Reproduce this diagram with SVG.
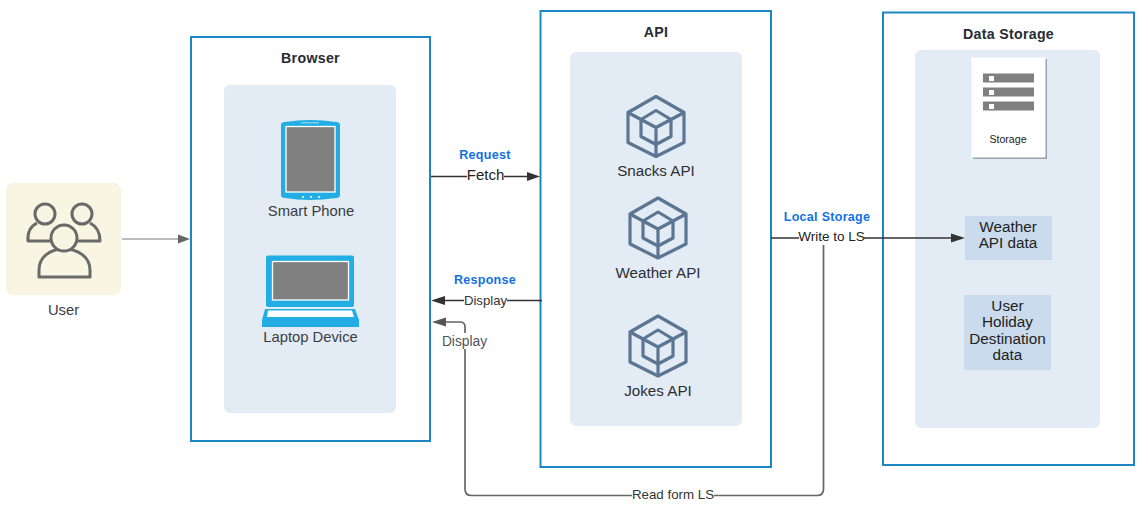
<svg xmlns="http://www.w3.org/2000/svg" width="1141" height="518" viewBox="0 0 1141 518">
<style>
text{font-family:"Liberation Sans",Arial,sans-serif;text-anchor:middle}
.box{fill:#fff;stroke:#1b87c2;stroke-width:2}
.panel{fill:#e3ebf5}
.title{font-size:14.200px;font-weight:bold;fill:#282c33;letter-spacing:.3px}
.lab{font-size:14.800px;fill:#3a3d42}
.api{font-size:15.200px;fill:#2c2f33}
.blue{font-size:12.500px;font-weight:bold;fill:#1071e5;letter-spacing:.3px}
.data{fill:#cbdbee}
.dt{font-size:15.300px;fill:#222}
.hex{fill:none;stroke:#5b7693;stroke-width:3.2;stroke-linejoin:round}
.ppl{fill:none;stroke:#6a6a6a;stroke-width:3;stroke-linejoin:round}
.dev{fill:#22ade4}
.scr{fill:#808080;stroke:#fff;stroke-width:1.3}
.c1{fill:none;stroke:#333;stroke-width:1.6}
.c2{fill:none;stroke:#666;stroke-width:1.7}
.lb{fill:#fff}
</style>
<defs>
<g id="cube">
<path class="hex" d="M0-30 28-14V16L0 30-28 16V-14Z"/>
<path class="hex" d="M0-16 15-7V10L0 18-15 10V-7Z"/>
<path class="hex" d="M-28-14-15-7 0 1 15-7 28-14M0 1V30"/>
</g>
</defs>

<g id="user">
<rect x="6" y="183" width="115" height="112" rx="7" fill="#f8f6e3"/>
<circle class="ppl" cx="45" cy="214" r="10"/>
<circle class="ppl" cx="82" cy="214" r="10"/>
<path class="ppl" d="M37 223Q27 228 28 241H50M90 223Q100 228 100 241H78"/>
<path d="M39 277V270C39 257 50 249 64 249 78 249 90 257 90 270V277Z" fill="#f8f6e3" stroke="#6a6a6a" stroke-width="3" stroke-linejoin="round"/>
<circle cx="64" cy="238" r="13" fill="#f8f6e3" stroke="#6a6a6a" stroke-width="3"/>
<text class="lab" x="63.500" y="314.500">User</text>
</g>

<g id="browser">
<rect class="box" x="191" y="37" width="239" height="404"/>
<rect class="panel" x="224" y="85" width="172" height="328" rx="6"/>
<text class="title" x="310.500" y="63">Browser</text>
</g>
<g id="smart-phone">
<path class="dev" d="M281 125Q281 122 285 122 310 118 336 122 340 122 340 125V195Q340 198 336 198 310 202 285 198 281 198 281 195Z"/>
<rect x="301" y="122" width="18" height="1.500" fill="#7fd0f0"/>
<rect class="scr" x="286" y="126.500" width="49" height="65.500"/>
<circle cx="303" cy="197" r="1" fill="#fff"/><circle cx="311" cy="197" r="1" fill="#fff"/><circle cx="319" cy="197" r="1" fill="#fff"/>
<text class="lab" x="311" y="216">Smart Phone</text>
</g>
<g id="laptop-device">
<rect class="dev" x="266" y="255.500" width="88" height="51.500" rx="2"/>
<rect class="scr" x="272.500" y="261.500" width="76" height="38.500"/>
<path class="dev" d="M265 309H355L359 320V327H262V320Z"/>
<path d="M268 310.500H352L354 317H267Z" fill="#fff"/>
<text class="lab" x="310.500" y="342">Laptop Device</text>
</g>

<g id="api">
<rect class="box" x="540.500" y="11" width="230.500" height="456"/>
<rect class="panel" x="570" y="52" width="172" height="374" rx="6"/>
<text class="title" x="656" y="37">API</text>
</g>
<g id="snacks-api">
<use href="#cube" x="656" y="126.500"/>
<text class="api" x="656" y="176">Snacks API</text>
</g>
<g id="weather-api">
<use href="#cube" x="658" y="228"/>
<text class="api" x="658" y="278">Weather API</text>
</g>
<g id="jokes-api">
<use href="#cube" x="658" y="346"/>
<text class="api" x="658" y="396">Jokes API</text>
</g>

<g id="data-storage">
<rect class="box" x="883" y="12.500" width="251" height="452.500"/>
<rect class="panel" x="915" y="50" width="185" height="378" rx="6"/>
<text class="title" x="1008.500" y="38.500">Data Storage</text>
</g>
<g id="storage">
<rect x="973" y="59" width="74" height="100" fill="#9aa3ad"/>
<rect x="971.500" y="57.500" width="74" height="100" fill="#fff"/>
<rect x="983" y="73.500" width="51" height="9" fill="#808080"/>
<rect x="983" y="87.500" width="51" height="9" fill="#808080"/>
<rect x="983" y="101.500" width="51" height="9" fill="#808080"/>
<rect x="989" y="76" width="5" height="5" fill="#fff"/>
<rect x="989" y="90" width="5" height="5" fill="#fff"/>
<rect x="989" y="104" width="5" height="5" fill="#fff"/>
<text x="1008" y="143" font-size="10.600" fill="#222">Storage</text>
</g>
<g id="weather-api-data">
<rect class="data" x="965" y="216" width="87" height="44"/>
<text class="dt" x="1008" y="231.500">Weather</text>
<text class="dt" x="1008" y="248">API data</text>
</g>
<g id="user-holiday-destination-data">
<rect class="data" x="964" y="295" width="87" height="75"/>
<text class="dt" x="1007.500" y="310.500">User</text>
<text class="dt" x="1007.500" y="327">Holiday</text>
<text class="dt" x="1007.500" y="343.500">Destination</text>
<text class="dt" x="1007.500" y="360">data</text>
</g>

<g id="connectors">
<path d="M122 239H179" fill="none" stroke="#777" stroke-width="1"/>
<path d="M178 234.500 190 239 178 243.500Z" fill="#666"/>
<path class="c1" d="M431 176.500H530"/>
<path d="M527 172 540 176.500 527 181Z" fill="#333"/>
<path class="c1" d="M542 300.500H442"/>
<path d="M445 296 431 300.500 445 305Z" fill="#333"/>
<path class="c1" d="M771 238H954"/>
<path d="M951 233.500 965 238 951 242.500Z" fill="#333"/>
<path class="c2" d="M823.500 245V489Q823.500 495.500 817 495.500H471.500Q465 495.500 465 489V327Q465 322 460 322H444"/>
<path d="M446 317.500 432 322 446 326.500Z" fill="#555"/>
</g>

<g id="connector-labels">
<text class="blue" x="485" y="159">Request</text>
<rect class="lb" x="467" y="168" width="37" height="16"/>
<text x="485.500" y="179.500" font-size="15" fill="#222">Fetch</text>
<text class="blue" x="485" y="284">Response</text>
<rect class="lb" x="464" y="293" width="43" height="14"/>
<text x="485.500" y="304.500" font-size="13.200" fill="#333">Display</text>
<rect class="lb" x="442" y="333" width="46" height="16"/>
<text x="464.500" y="346" font-size="13.800" fill="#50545a">Display</text>
<text class="blue" x="827" y="221">Local Storage</text>
<rect class="lb" x="799" y="230" width="65" height="15"/>
<text x="831.500" y="240.500" font-size="13.500" fill="#222">Write to LS</text>
<rect class="lb" x="632" y="488" width="82" height="14"/>
<text x="673" y="498.500" font-size="13.300" fill="#333">Read form LS</text>
</g>
</svg>
